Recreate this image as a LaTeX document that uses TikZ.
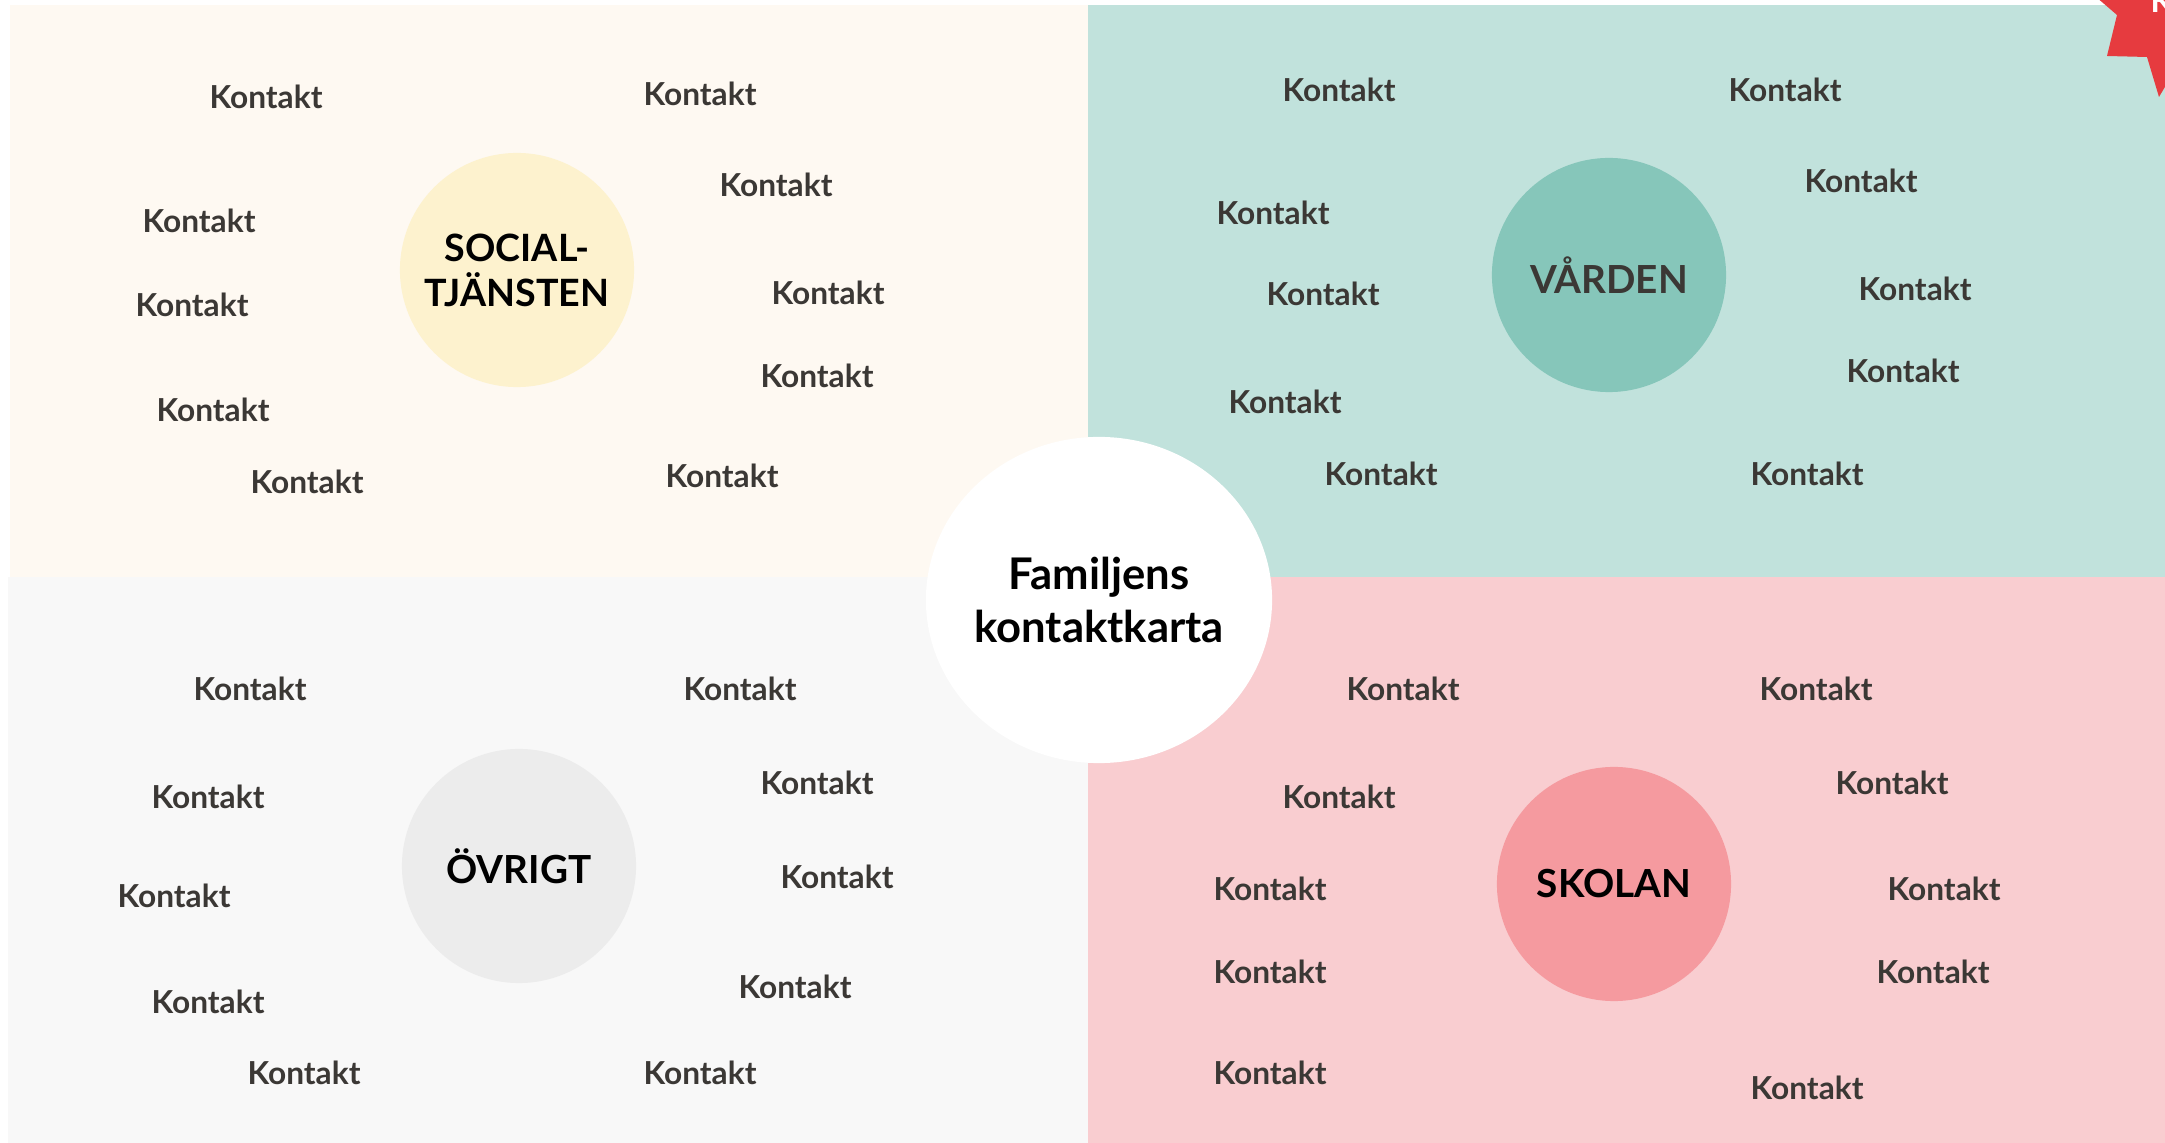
\documentclass[tikz,border=0pt]{standalone}
\usepackage{fontspec}
\setmainfont{Lato}

\definecolor{socbg}{HTML}{FEF9F2}
\definecolor{soccirc}{HTML}{FDF2CE}
\definecolor{vardbg}{HTML}{C1E2DC}
\definecolor{vardcirc}{HTML}{86C6BA}
\definecolor{ovrbg}{HTML}{F8F8F8}
\definecolor{ovrcirc}{HTML}{ECECEC}
\definecolor{skolbg}{HTML}{F9CDD0}
\definecolor{skolcirc}{HTML}{F59A9F}
\definecolor{starred}{HTML}{E63B3F}
\definecolor{txtgray}{HTML}{3B3835}

\tikzset{
  kontakt/.style={text=txtgray, font=\fontsize{9}{10.5}\selectfont\bfseries, inner sep=0pt},
  area/.style={circle, minimum size=2.34cm, inner sep=0pt, align=center,
    font=\fontsize{10.7}{12.8}\selectfont\bfseries}
}

\begin{document}
\begin{tikzpicture}[x={(0.01cm,0)}, y={(0,-0.01cm)}]

      \useasboundingbox (0,0) rectangle (2165,1143);
      \fill[white] (0,0) rectangle (2165,1143);

      % quadrants
      \fill[socbg]  (10,5)    rectangle (1088,577);
      \fill[vardbg] (1088,5)  rectangle (2165,577);
      \fill[ovrbg]  (8,577)   rectangle (1088,1143);
      \fill[skolbg] (1088,577) rectangle (2165,1143);

      % star in the corner
      \fill[starred] (2088,-10) -- (2117,15) -- (2107,56) -- (2147,57)
        -- (2159,97) -- (2175,70) -- (2175,-10) -- cycle;
      \node[anchor=base west, inner sep=0pt, text=white,
        font=\fontsize{9}{10.5}\selectfont\bfseries] (badge) at (2150,13) {K};

      \begin{scope}[every node/.style={area}]
        \node[fill=soccirc, text=black] (soc) at (517,270) {SOCIAL-\\TJÄNSTEN};
        \node[fill=vardcirc, text=txtgray, font=\fontsize{11}{13}\selectfont\bfseries] (vard) at (1609,275) {VÅRDEN};
        \node[fill=ovrcirc, text=black, font=\fontsize{11}{13}\selectfont\bfseries] (ovr) at (519,866) {ÖVRIGT};
        \node[fill=skolcirc, text=black, font=\fontsize{11}{13}\selectfont\bfseries] (skol) at (1614,884) {SKOLAN};
      \end{scope}

      % centre
      \fill[white] (1099,600) ellipse [x radius=1.73cm, y radius=1.63cm];
      \node[align=center, inner sep=0pt, font=\fontsize{12.4}{15.1}\selectfont\bfseries]
        (karta) at (1099,600) {Familjens\\kontaktkarta};

      \begin{scope}[every node/.style={kontakt}]
        % socialtjansten
        \node (s1)  at (266,97)  {Kontakt};
        \node (s2)  at (700,94)  {Kontakt};
        \node (s3)  at (199,221) {Kontakt};
        \node (s4)  at (776,185) {Kontakt};
        \node (s5)  at (192,305) {Kontakt};
        \node (s6)  at (828,293) {Kontakt};
        \node (s7)  at (817,376) {Kontakt};
        \node (s8)  at (213,410) {Kontakt};
        \node (s9)  at (307,482) {Kontakt};
        \node (s10) at (722,476) {Kontakt};
        % varden
        \node (v1)  at (1339,90)  {Kontakt};
        \node (v2)  at (1785,90)  {Kontakt};
        \node (v3)  at (1273,213) {Kontakt};
        \node (v4)  at (1861,181) {Kontakt};
        \node (v5)  at (1323,294) {Kontakt};
        \node (v6)  at (1915,289) {Kontakt};
        \node (v7)  at (1285,402) {Kontakt};
        \node (v8)  at (1903,371) {Kontakt};
        \node (v9)  at (1381,474) {Kontakt};
        \node (v10) at (1807,474) {Kontakt};
        % ovrigt
        \node (o1)  at (250,689)  {Kontakt};
        \node (o2)  at (740,689)  {Kontakt};
        \node (o3)  at (208,797)  {Kontakt};
        \node (o4)  at (817,783)  {Kontakt};
        \node (o5)  at (174,896)  {Kontakt};
        \node (o6)  at (837,877)  {Kontakt};
        \node (o7)  at (208,1002) {Kontakt};
        \node (o8)  at (795,987)  {Kontakt};
        \node (o9)  at (304,1073) {Kontakt};
        \node (o10) at (700,1073) {Kontakt};
        % skolan
        \node (k1)  at (1403,689)  {Kontakt};
        \node (k2)  at (1816,689)  {Kontakt};
        \node (k3)  at (1339,797)  {Kontakt};
        \node (k4)  at (1892,783)  {Kontakt};
        \node (k5)  at (1270,889)  {Kontakt};
        \node (k6)  at (1944,889)  {Kontakt};
        \node (k7)  at (1270,972)  {Kontakt};
        \node (k8)  at (1933,972)  {Kontakt};
        \node (k9)  at (1270,1073) {Kontakt};
        \node (k10) at (1807,1088) {Kontakt};
      \end{scope}

    \end{tikzpicture}
\end{document}
